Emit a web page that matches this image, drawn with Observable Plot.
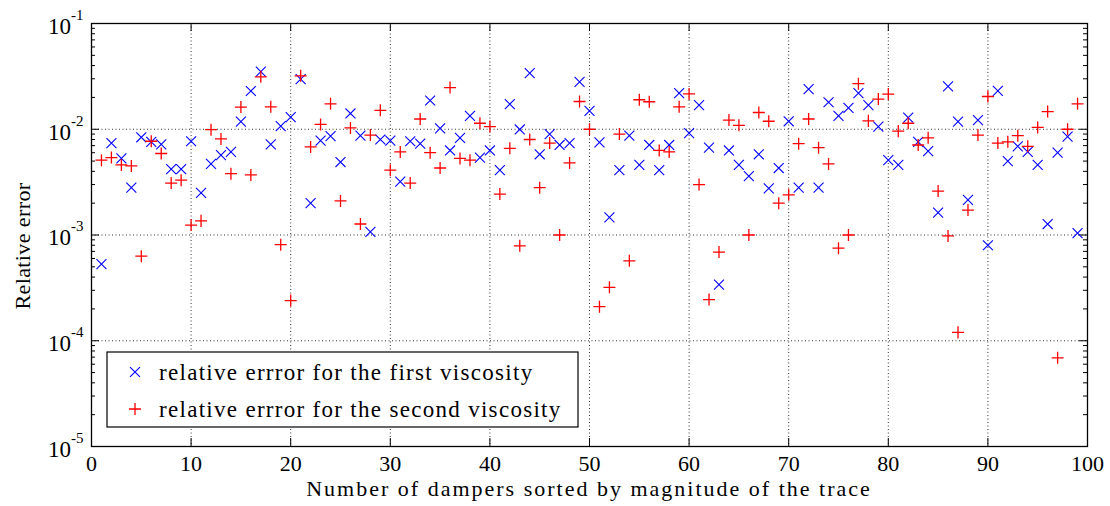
<!DOCTYPE html>
<html>
<head>
<meta charset="utf-8">
<script src="https://cdn.jsdelivr.net/npm/d3@7"></script>
<script src="https://cdn.jsdelivr.net/npm/@observablehq/plot@0.6"></script>
<style>
  html, body { margin: 0; padding: 0; background: #fff; }
  #chart svg { display: block; }
</style>
</head>
<body>
<div id="chart"></div>
<script>
// ---- data ----
const firstViscosity = [
  5.3e-4, 7.4e-3, 5.3e-3, 2.8e-3, 8.4e-3, 7.6e-3, 7.2e-3, 4.2e-3, 4.2e-3, 7.7e-3,
  2.5e-3, 4.7e-3, 5.7e-3, 6.1e-3, 1.18e-2, 2.3e-2, 3.5e-2, 7.2e-3, 1.07e-2, 1.3e-2,
  2.98e-2, 2.0e-3, 7.8e-3, 8.6e-3, 4.9e-3, 1.41e-2, 8.7e-3, 1.07e-3, 8.0e-3, 7.8e-3,
  3.2e-3, 7.7e-3, 7.3e-3, 1.87e-2, 1.02e-2, 6.3e-3, 8.3e-3, 1.34e-2, 5.4e-3, 6.3e-3,
  4.1e-3, 1.73e-2, 9.95e-3, 3.4e-2, 5.8e-3, 9.0e-3, 7.1e-3, 7.4e-3, 2.8e-2, 1.49e-2,
  7.5e-3, 1.47e-3, 4.1e-3, 8.7e-3, 4.6e-3, 7.1e-3, 4.1e-3, 7.1e-3, 2.2e-2, 9.2e-3,
  1.69e-2, 6.7e-3, 3.4e-4, 6.3e-3, 4.6e-3, 3.6e-3, 5.8e-3, 2.76e-3, 4.3e-3, 1.19e-2,
  2.8e-3, 2.4e-2, 2.8e-3, 1.8e-2, 1.34e-2, 1.59e-2, 2.2e-2, 1.69e-2, 1.06e-2, 5.1e-3,
  4.6e-3, 1.29e-2, 7.6e-3, 6.2e-3, 1.63e-3, 2.54e-2, 1.18e-2, 2.15e-3, 1.22e-2, 8.0e-4,
  2.31e-2, 5.0e-3, 6.9e-3, 6.1e-3, 4.6e-3, 1.27e-3, 6.0e-3, 8.5e-3, 1.04e-3
];
const secondViscosity = [
  5.1e-3, 5.4e-3, 4.6e-3, 4.5e-3, 6.3e-4, 7.7e-3, 5.9e-3, 3.1e-3, 3.3e-3, 1.24e-3,
  1.36e-3, 9.9e-3, 8.1e-3, 3.8e-3, 1.62e-2, 3.7e-3, 3.13e-2, 1.63e-2, 8.1e-4, 2.4e-4,
  3.2e-2, 6.8e-3, 1.11e-2, 1.74e-2, 2.1e-3, 1.03e-2, 1.27e-3, 8.8e-3, 1.51e-2, 4.1e-3,
  6.1e-3, 3.1e-3, 1.25e-2, 6.0e-3, 4.3e-3, 2.48e-2, 5.3e-3, 5.1e-3, 1.14e-2, 1.06e-2,
  2.44e-3, 6.6e-3, 7.9e-4, 8.0e-3, 2.8e-3, 7.4e-3, 1.0e-3, 4.8e-3, 1.83e-2, 1.0e-2,
  2.1e-4, 3.2e-4, 9.0e-3, 5.7e-4, 1.9e-2, 1.82e-2, 6.3e-3, 6.1e-3, 1.63e-2, 2.16e-2,
  3.0e-3, 2.45e-4, 6.9e-4, 1.22e-2, 1.09e-2, 1.0e-3, 1.44e-2, 1.19e-2, 2.0e-3, 2.4e-3,
  7.3e-3, 1.25e-2, 6.7e-3, 4.7e-3, 7.5e-4, 1.0e-3, 2.7e-2, 1.2e-2, 1.93e-2, 2.15e-2,
  9.6e-3, 1.14e-2, 7.1e-3, 8.3e-3, 2.6e-3, 9.8e-4, 1.2e-4, 1.72e-3, 8.8e-3, 2.04e-2,
  7.4e-3, 7.6e-3, 8.7e-3, 6.9e-3, 1.04e-2, 1.47e-2, 6.9e-5, 1.0e-2, 1.74e-2
];
const xTicks = [0, 10, 20, 30, 40, 50, 60, 70, 80, 90, 100];
const yTicks = [1e-5, 1e-4, 1e-3, 1e-2, 1e-1];
const yTickExponents = ["-5", "-4", "-3", "-2", "-1"];
const seriesNames = ["relative errror for the first viscosity", "relative errror for the second viscosity"];
const xTitle = "Number of dampers sorted by magnitude of the trace";
const yTitle = "Relative error";

// ---- derived tables ----
const damper = firstViscosity.map((_, i) => i + 1);
const rowsFirst = damper.map((n, i) => ({n, err: firstViscosity[i]}));
const rowsSecond = damper.map((n, i) => ({n, err: secondViscosity[i]}));
const yDomain = [1e-5, 1e-1];
const minorY = d3.scaleLog().domain(yDomain).ticks().filter(v => !yTicks.some(t => Math.abs(t - v) / t < 1e-6));

const W = 1110, H = 506;
const mL = 91, mR = 23, mT = 23, mB = 60;
const pw = W - mL - mR, ph = H - mT - mB;
const FONT = "'Liberation Serif', 'Times New Roman', serif";
const BLUE = "#0000ff", RED = "#ff0000";
const gridStyle = {stroke: "#000", strokeOpacity: 0.8, strokeDasharray: "1,2.5", strokeWidth: 1};

const chart = Plot.plot({
  width: W, height: H,
  marginLeft: mL, marginRight: mR, marginTop: mT, marginBottom: mB,
  style: {fontFamily: FONT, fontSize: "22px", background: "#fff", color: "#000", overflow: "visible"},
  x: {domain: [0, 100]},
  y: {type: "log", domain: yDomain},
  marks: [
    Plot.gridX(xTicks.slice(1, -1), gridStyle),
    Plot.gridY(yTicks.slice(1, -1), gridStyle),
    // inward ticks
    Plot.tickX(xTicks, {x: d => d, insetTop: ph - 8, stroke: "#000"}),
    Plot.tickX(xTicks, {x: d => d, insetBottom: ph - 8, stroke: "#000"}),
    Plot.tickY(yTicks, {y: d => d, insetRight: pw - 8, stroke: "#000"}),
    Plot.tickY(yTicks, {y: d => d, insetLeft: pw - 8, stroke: "#000"}),
    Plot.tickY(minorY, {y: d => d, insetRight: pw - 4, stroke: "#000"}),
    Plot.tickY(minorY, {y: d => d, insetLeft: pw - 4, stroke: "#000"}),
    Plot.axisX(xTicks, {anchor: "bottom", tickSize: 0, tickPadding: 9, label: null, fontSize: 22, tickFormat: d => String(d)}),
    Plot.axisY(yTicks, {anchor: "left", tickSize: 0, tickPadding: 8, dy: 3, label: null, fontSize: 23, tickFormat: () => "10"}),
    Plot.dot(rowsFirst, {x: "n", y: "err", symbol: "times", r: 4.6, stroke: BLUE, strokeWidth: 1.1}),
    Plot.dot(rowsSecond, {x: "n", y: "err", symbol: "plus", r: 3.95, stroke: RED, strokeWidth: 1.3}),
    Plot.frame({stroke: "#000", strokeWidth: 1.3})
  ]
});

document.getElementById("chart").appendChild(chart);

const svg = d3.select(chart);
// superscript exponents on y tick labels
svg.selectAll("g[aria-label='y-axis tick label'] text").each(function(d, i) {
  d3.select(this).append("tspan").attr("dy", -14).attr("font-size", "15px").text(yTickExponents[i]);
});

// axis titles
svg.append("text")
  .attr("x", mL + pw / 2).attr("y", 496)
  .attr("text-anchor", "middle")
  .attr("font-family", FONT).attr("font-size", 22)
  .attr("letter-spacing", "2px")
  .text(xTitle);
svg.append("text")
  .attr("transform", `translate(30, 246) rotate(-90)`)
  .attr("text-anchor", "middle")
  .attr("font-family", FONT).attr("font-size", 22)
  .attr("letter-spacing", "0.4px")
  .text(yTitle);

// legend
const lg = svg.append("g").attr("font-family", FONT).attr("font-size", 23).attr("text-anchor", "start");
lg.append("rect").attr("x", 107).attr("y", 352).attr("width", 471).attr("height", 75)
  .attr("fill", "#fff").attr("stroke", "#000").attr("stroke-width", 1.2);
const legendRows = [
  {name: seriesNames[0], sym: d3.symbolTimes, size: Math.PI * 4.6 * 4.6, color: BLUE, sw: 1.1, cy: 372},
  {name: seriesNames[1], sym: d3.symbolPlus, size: Math.PI * 3.95 * 3.95, color: RED, sw: 1.3, cy: 409}
];
legendRows.forEach(r => {
  lg.append("path").attr("d", d3.symbol(r.sym, r.size)())
    .attr("transform", `translate(135, ${r.cy})`)
    .attr("fill", "none").attr("stroke", r.color).attr("stroke-width", r.sw);
  lg.append("text").attr("x", 159).attr("y", r.cy).attr("dy", "0.35em")
    .attr("text-anchor", "start").attr("letter-spacing", "1.3px").text(r.name);
});
</script>
</body>
</html>
